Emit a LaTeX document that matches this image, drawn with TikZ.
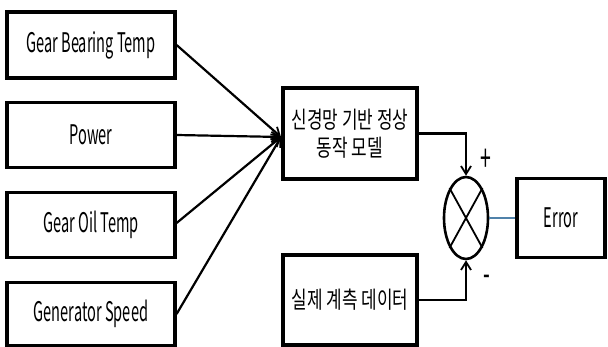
\documentclass[tikz,border=0pt]{standalone}
\usepackage{fontspec}
\setmainfont{Noto Sans CJK KR}[FakeStretch=0.54]
\newfontfamily\kr{Noto Sans CJK KR}[FakeStretch=0.72]
\usetikzlibrary{arrows.meta,shapes.geometric}
\begin{document}
\begin{tikzpicture}[x=1pt,y=-1pt,
  box/.style={draw,line width=3.2pt,inner sep=0pt},
  conn/.style={line width=2.2pt},
  arr/.style={conn,-{Straight Barb[length=8pt,width=10pt,line width=1.8pt]}},
  lbl/.style={font=\fontsize{27}{29}\selectfont},
  klbl/.style={font=\kr\fontsize{23.5}{28}\selectfont,align=center}]
\useasboundingbox (0,0) rectangle (608,347);
\node[box,minimum width=168pt,minimum height=66pt,lbl] (g1) at (91,45) {Gear Bearing Temp};
\node[box,minimum width=168pt,minimum height=65pt,lbl] (g2) at (91,135) {Power};
\node[box,minimum width=168pt,minimum height=65pt,lbl] (g3) at (91,225) {Gear Oil Temp};
\node[box,minimum width=168pt,minimum height=63pt,lbl] (g4) at (91,314) {Generator Speed};
\node[box,minimum width=134pt,minimum height=91pt,klbl] (model) at (350,133.5) {신경망 기반 정상\\동작 모델};
\node[box,minimum width=134pt,minimum height=90pt,klbl] (meas) at (350,300) {실제 계측 데이터};
\node[draw,ellipse,line width=2.6pt,minimum width=44pt,minimum height=82pt,inner sep=0pt] (sum) at (466,218) {};
\draw[line width=1.8pt] (sum.north west) -- (sum.south east) (sum.north east) -- (sum.south west);
\node[box,minimum width=88pt,minimum height=79pt,lbl] (err) at (561,218) {Error};
\coordinate (cv) at (281,137);
\draw[arr] (g1.east) -- (cv);
\draw[arr] (g2.east) -- (cv);
\draw[arr] ([yshift=2pt]g3.east) -- (cv);
\draw[arr] (g4.east) -- (cv);
\draw[arr] (model.east) -| (sum.north);
\draw[arr] (meas.east) -| (sum.south);
\draw[line width=2pt,color={rgb,255:red,80;green,130;blue,170}] (sum.east) -- (err.west);
\node[font=\fontsize{36}{36}\selectfont] (plus) at (486,160) {+};
\node[font=\fontsize{36}{36}\selectfont] (minus) at (487,281) {-};
\end{tikzpicture}
\end{document}
